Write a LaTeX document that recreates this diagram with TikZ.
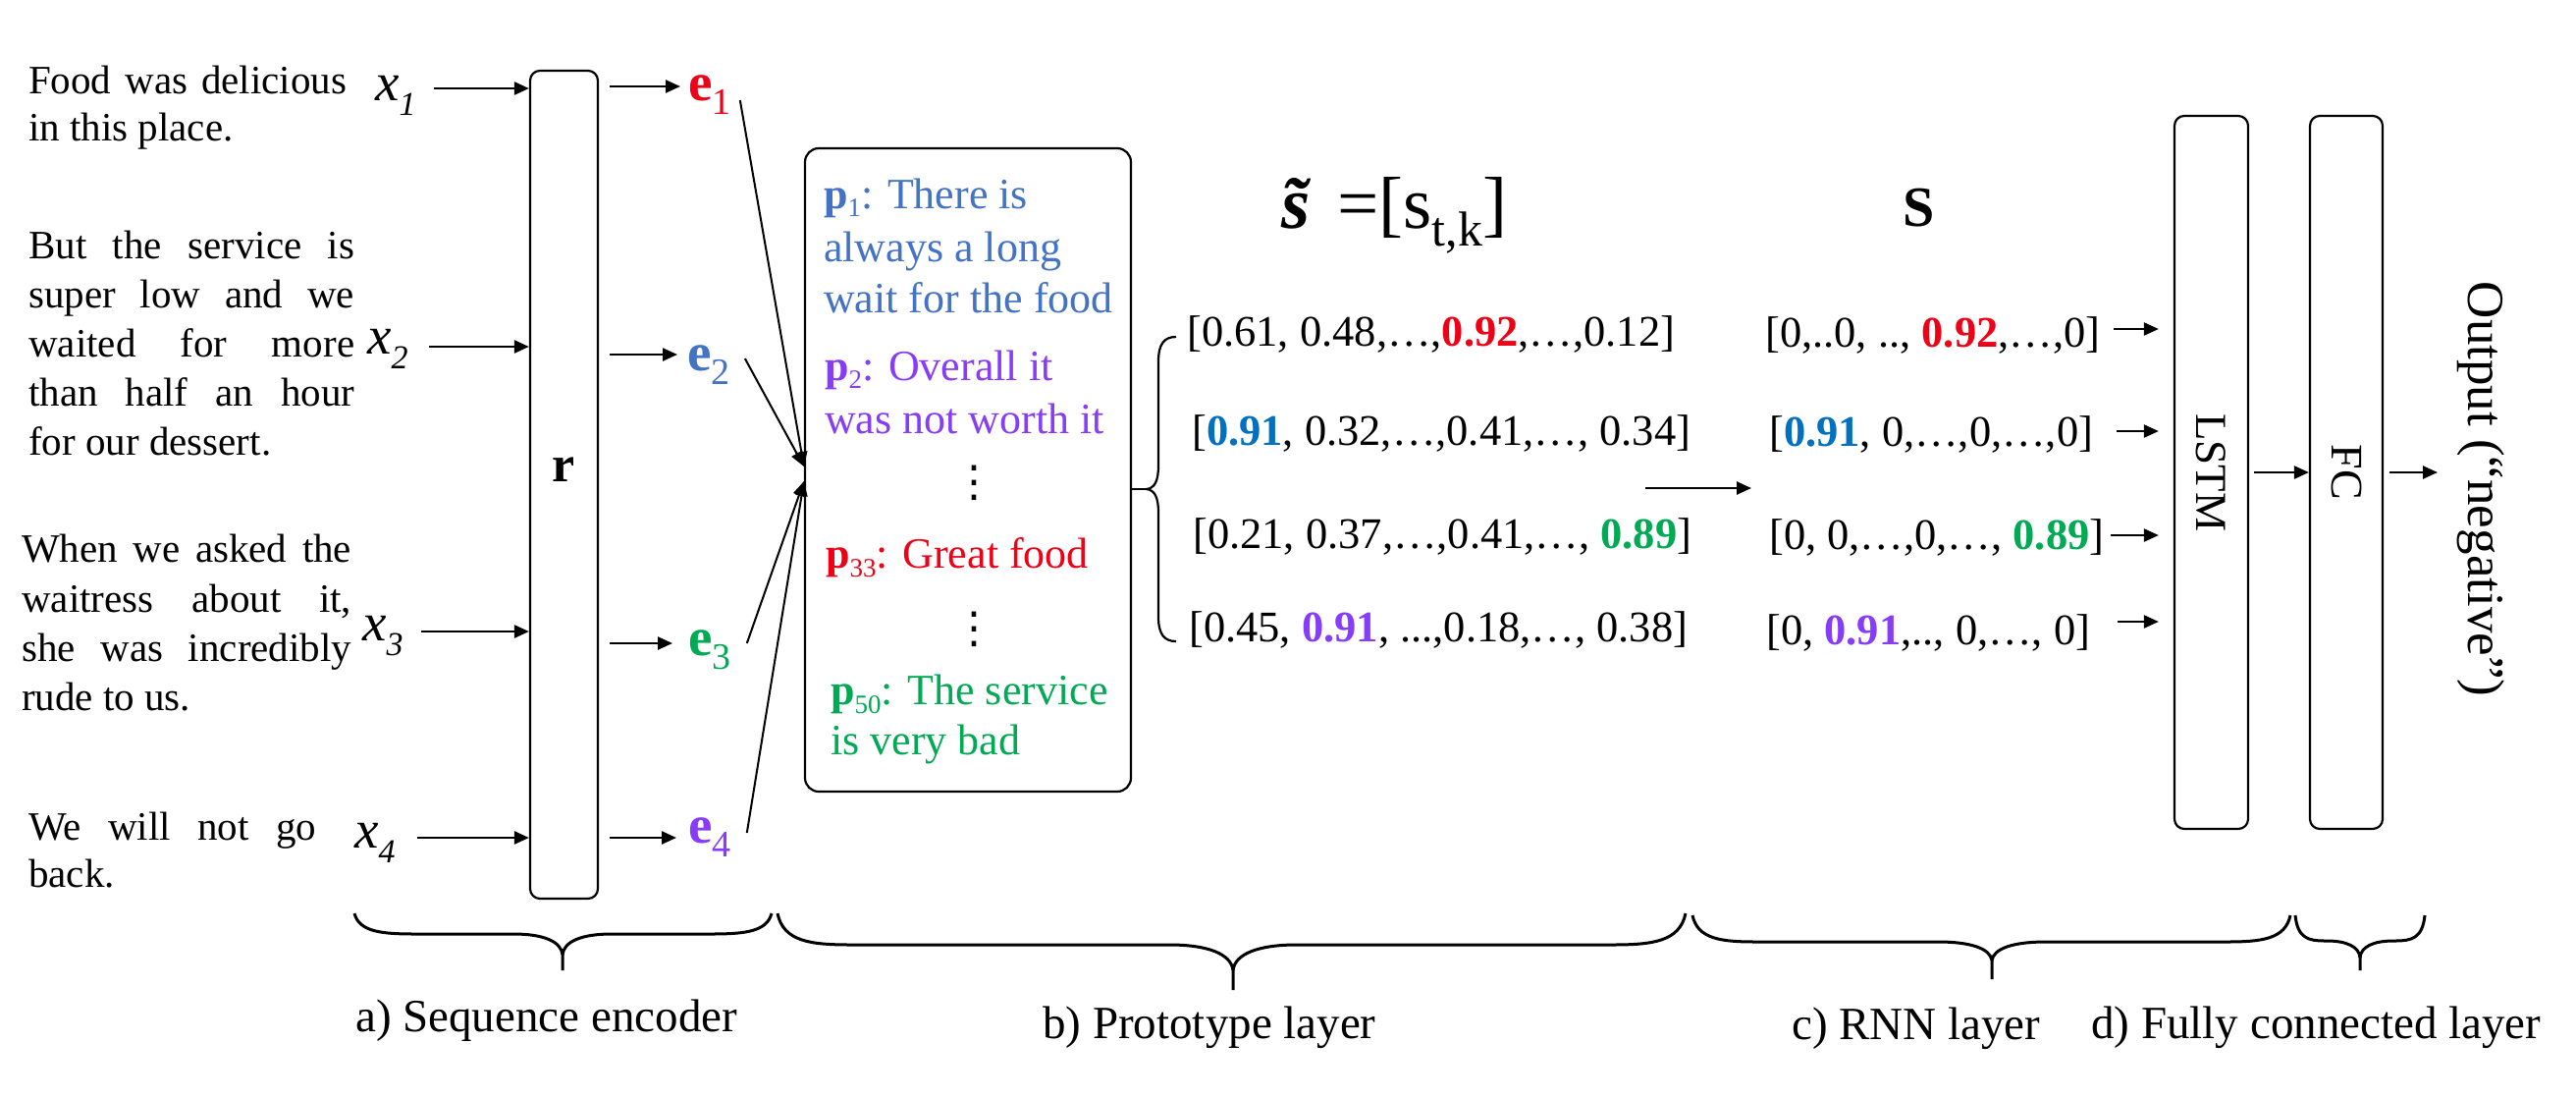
\documentclass[tikz,border=0pt]{standalone}
\usepackage{fontspec}
\setmainfont{Liberation Serif}
\newfontfamily\djv{DejaVu Sans}
\usetikzlibrary{arrows.meta,calc}
\definecolor{cred}{RGB}{238,0,22}
\definecolor{cblue}{RGB}{68,114,196}
\definecolor{cdblue}{RGB}{0,112,192}
\definecolor{cgreen}{RGB}{0,170,85}
\definecolor{cpurple}{RGB}{135,60,250}
\newcommand\fsz[1]{\fontsize{#1}{#1}\selectfont}
\newcommand\mysub[3]{\raisebox{-#2pt}{\fontsize{#1}{#1}\selectfont #3}}
\tikzset{
  box/.style={draw, line width=2.2pt, rounded corners=10pt, inner sep=0pt},
  arr/.style={line width=2.4pt, -{Triangle[length=15pt,width=13pt]}},
  fan/.style={line width=2pt, -{Triangle[length=15pt,width=12pt]}},
  brc/.style={line width=3pt},
  ltxt/.style={anchor=base west, inner sep=0pt, font=\fsz{41}},
  xl/.style={anchor=base west, inner sep=0pt, font=\fsz{55}},
  el/.style={anchor=base west, inner sep=0pt, font=\fsz{55}},
  ptxt/.style={anchor=base west, inner sep=0pt, font=\fsz{44}},
  vdt/.style={inner sep=0pt, font=\djv\fsz{44}},
  vtxt/.style={anchor=base west, inner sep=0pt, font=\fsz{44.5}},
  btxt/.style={anchor=base west, inner sep=0pt, font=\fsz{47}},
}
\newcommand\hbr[9]{%
  \draw[brc] (#1,-#4) .. controls ({#1+0.08*#8},{-#4-0.9*(#5-#4)}) and ({#1+0.45*#8},{-#5}) .. ({#1+#8},{-#5})
    -- ({#3-#9},{-#5}) .. controls ({#3-0.4*#9},{-#5}) and ({#3-0.03*#9},{-#5-0.35*(#6-#5)}) .. (#3,-#6) -- (#3,-#7);
  \draw[brc] (#2,-#4) .. controls ({#2-0.08*#8},{-#4-0.9*(#5-#4)}) and ({#2-0.45*#8},{-#5}) .. ({#2-#8},{-#5})
    -- ({#3+#9},{-#5}) .. controls ({#3+0.4*#9},{-#5}) and ({#3+0.03*#9},{-#5-0.35*(#6-#5)}) .. (#3,-#6);
}
\begin{document}
\begin{tikzpicture}[x=1pt,y=1pt]
\useasboundingbox[fill=white] (0,0) rectangle (2624,-1117);

% left sentences
\node[ltxt] (t1a) at (29,-95) {\makebox[324pt][s]{Food was delicious}};
\node[ltxt] (t1b) at (29,-143) {in this place.};
\node[ltxt] (t2a) at (29,-263) {\makebox[332pt][s]{But the service is}};
\node[ltxt] (t2b) at (29,-313) {\makebox[332pt][s]{super low and we}};
\node[ltxt] (t2c) at (29,-363) {\makebox[332pt][s]{waited for more}};
\node[ltxt] (t2d) at (29,-413) {\makebox[332pt][s]{than half an hour}};
\node[ltxt] (t2e) at (29,-463) {for our dessert.};
\node[ltxt] (t3a) at (22,-572) {\makebox[336pt][s]{When we asked the}};
\node[ltxt] (t3b) at (22,-623) {\makebox[336pt][s]{waitress about it,}};
\node[ltxt] (t3c) at (22,-673) {\makebox[336pt][s]{she was incredibly}};
\node[ltxt] (t3d) at (22,-723) {rude to us.};
\node[ltxt] (t4a) at (29,-855) {\makebox[293pt][s]{We will not go}};
\node[ltxt] (t4b) at (29,-903) {back.};

% x labels
\node[xl] (x1) at (382,-102) {\textit{x}\mysub{34}{15}{\textit{1}}};
\node[xl] (x2) at (374,-360) {\textit{x}\mysub{34}{15}{\textit{2}}};
\node[xl] (x3) at (369,-652) {\textit{x}\mysub{34}{15}{\textit{3}}};
\node[xl] (x4) at (361,-863) {\textit{x}\mysub{34}{15}{\textit{4}}};

% encoder box
\node[box, minimum width=69pt, minimum height=843pt] (r) at (574.5,-493.5) {};
\node[anchor=base, inner sep=0pt, font=\fsz{52}\bfseries] (rl) at (574.5,-490) {r};

\coordinate (xs1) at (442,-90);
\coordinate (xs2) at (437,-353);
\coordinate (xs3) at (429,-643);
\coordinate (xs4) at (425,-853);
\foreach \i in {1,...,4}{\draw[arr] (xs\i) -- (xs\i -| r.west);}

% e labels
\node[el, text=cred] (e1) at (701,-102) {\textbf{e}\mysub{38}{14}{1}};
\node[el, text=cblue] (e2) at (700,-377) {\textbf{e}\mysub{38}{14}{2}};
\node[el, text=cgreen] (e3) at (701,-667) {\textbf{e}\mysub{38}{14}{3}};
\node[el, text=cpurple] (e4) at (701,-858) {\textbf{e}\mysub{38}{14}{4}};

\coordinate (et1) at (693,-88);
\coordinate (et2) at (690,-361);
\coordinate (et3) at (685,-655);
\coordinate (et4) at (689,-853);
\foreach \i in {1,...,4}{\draw[arr] ($(r.east |- et\i)+(11,0)$) -- (et\i);}

% prototype box
\node[box, rounded corners=14pt, minimum width=332pt, minimum height=655pt] (P) at (986,-478.5) {};
\draw[fan] ($(e1.base east)+(9,0)$) -- ([yshift=3.5pt]P.west);
\draw[fan] ($(e2.base east)+(15,12)$) -- ([yshift=3.5pt]P.west);
\draw[fan] ($(e3.base east)+(16,12)$) -- ([yshift=-11.5pt]P.west);
\draw[fan] ($(e4.base east)+(16,10)$) -- ([yshift=-11.5pt]P.west);

\node[ptxt, text=cblue] (p1a) at (839,-212) {\textbf{p}\mysub{27}{8}{1}: There is};
\node[ptxt, text=cblue] (p1b) at (839,-266) {always a long};
\node[ptxt, text=cblue] (p1c) at (839,-318) {wait for the food};
\node[ptxt, text=cpurple] (p2a) at (840,-387) {\textbf{p}\mysub{27}{8}{2}: Overall it};
\node[ptxt, text=cpurple] (p2b) at (840,-441) {was not worth it};
\node[vdt] (d1) at (992,-492) {⋮};
\node[ptxt, text=cred] (p33) at (841,-578) {\textbf{p}\mysub{27}{9}{33}: Great food};
\node[vdt] (d2) at (992,-641) {⋮};
\node[ptxt, text=cgreen] (p50a) at (846,-717) {\textbf{p}\mysub{27}{9}{50}: The service};
\node[ptxt, text=cgreen] (p50b) at (846,-768) {is very bad};

% side brace
\coordinate (bt) at (1168,-498);
\draw[line width=2.2pt] (bt -| P.east) -- (bt);
\draw[line width=2.2pt] (1198,-343) .. controls (1186,-343) and (1180,-350) .. (1180,-368) -- (1180,-474)
  .. controls (1180,-490) and (1176,-497) .. (bt)
  .. controls (1176,-499) and (1180,-506) .. (1180,-522) -- (1180,-628)
  .. controls (1180,-646) and (1186,-653) .. (1198,-653);

% similarity vectors
\node[anchor=base west, inner sep=0pt, font=\fsz{75}] (st1) at (1305,-232) {\textbf{\textit{\~s}}};
\node[anchor=base west, inner sep=0pt, font=\fsz{75}] (st2) at (1362,-232) {=[s\mysub{50}{18}{t,k}]};
\node[vtxt] (v1) at (1209,-352) {[0.61, 0.48,…,\textcolor{cred}{\textbf{0.92}},…,0.12]};
\node[vtxt] (v2) at (1214,-453) {[\textcolor{cdblue}{\textbf{0.91}}, 0.32,…,0.41,…, 0.34]};
\node[vtxt] (v3) at (1215,-558) {[0.21, 0.37,…,0.41,…, \textcolor{cgreen}{\textbf{0.89}}]};
\node[vtxt] (v4) at (1211,-653) {[0.45, \textcolor{cpurple}{\textbf{0.91}}, ...,0.18,…, 0.38]};

\coordinate (m1) at (1676,-497);
\coordinate (m2) at (1784,-497);
\draw[arr] (m1) -- (m2);

\node[anchor=base west, inner sep=0pt, font=\fsz{58}\bfseries] (Sh) at (1938,-230) {S};
\node[vtxt] (s1) at (1798,-353) {[0,..0, .., \textcolor{cred}{\textbf{0.92}},…,0]};
\node[vtxt] (s2) at (1802,-454) {[\textcolor{cdblue}{\textbf{0.91}}, 0,…,0,…,0]};
\node[vtxt] (s3) at (1802,-559) {[0, 0,…,0,…, \textcolor{cgreen}{\textbf{0.89}}]};
\node[vtxt] (s4) at (1799,-656) {[0, \textcolor{cpurple}{\textbf{0.91}},.., 0,…, 0]};

% LSTM and FC
\node[box, minimum width=75pt, minimum height=726pt, font=\fsz{45}] (L) at (2252.5,-481) {\rotatebox{-90}{LSTM}};
\node[box, minimum width=74pt, minimum height=726pt, font=\fsz{46}] (F) at (2390,-481) {\rotatebox{-90}{FC}};
\coordinate (la1) at (2153,-335);
\coordinate (la2) at (2156,-439);
\coordinate (la3) at (2150,-545);
\coordinate (la4) at (2157,-633);
\foreach \i in {1,...,4}{\draw[arr, shorten >=15pt] (la\i) -- (la\i -| L.west);}
\draw[arr] ([xshift=5pt]L.east) -- (F.west);
\node[rotate=-90, inner sep=0pt, font=\fsz{53}] (out) at (2527,-498) {Output (“negative”)};
\coordinate (oa) at (2483,-481);
\draw[arr] ([xshift=6pt]F.east) -- (oa);

% bottom braces
\hbr{361}{786}{573}{930}{951}{972}{988}{62}{50}
\hbr{792}{1717}{1256}{930}{962}{988}{1008}{75}{65}
\hbr{1724}{2333}{2029}{932}{959}{978}{997}{65}{55}
\hbr{2338}{2470}{2404}{932}{958}{975}{988}{30}{34}

\node[btxt] (la) at (362,-1050) {a) Sequence encoder};
\node[btxt] (lb) at (1062,-1057) {b) Prototype layer};
\node[btxt] (lc) at (1825,-1058) {c) RNN layer};
\node[btxt] (ld) at (2130,-1057) {d) Fully connected layer};
\end{tikzpicture}
\end{document}
